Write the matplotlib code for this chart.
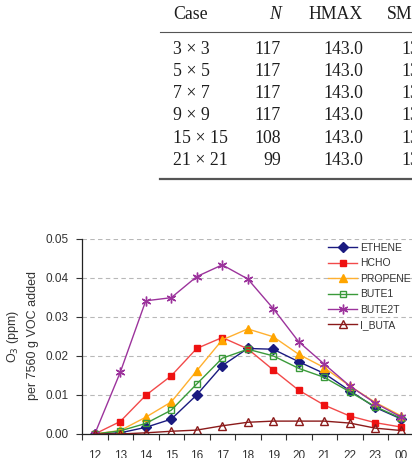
import matplotlib
matplotlib.use("Agg")
import matplotlib.pyplot as plt
from matplotlib.lines import Line2D

# table data (cropped at right edge)
table_header = ["Case", "N", "HMAX", "SMAX"]
cases = ["3 × 3", "5 × 5", "7 × 7", "9 × 9", "15 × 15", "21 × 21"]
n_vals = ["117", "117", "117", "117", "108", "99"]
hmax_vals = ["143.0", "143.0", "143.0", "143.0", "143.0", "143.0"]
smax_vals = ["13", "13", "13", "13", "13", "13"]

# chart data
hours = ["12", "13", "14", "15", "16", "17", "18", "19", "20", "21", "22", "23", "00"]
ethene = [0.0, 0.0003, 0.0017, 0.0038, 0.0100, 0.0175, 0.0219, 0.0217, 0.0185, 0.0155, 0.0111, 0.0068, 0.0039]
hcho = [0.0, 0.0032, 0.0099, 0.0149, 0.0219, 0.0247, 0.0218, 0.0164, 0.0112, 0.0074, 0.0046, 0.0029, 0.0018]
propene = [0.0, 0.0009, 0.0043, 0.0082, 0.0162, 0.0241, 0.0269, 0.0249, 0.0204, 0.0170, 0.0123, 0.0081, 0.0047]
bute1 = [0.0, 0.0008, 0.0027, 0.0061, 0.0128, 0.0194, 0.0217, 0.0200, 0.0168, 0.0145, 0.0108, 0.0070, 0.0041]
bute2t = [0.0, 0.0158, 0.0341, 0.0349, 0.0403, 0.0433, 0.0397, 0.0321, 0.0236, 0.0179, 0.0123, 0.0079, 0.0044]
i_buta = [0.0, 0.0, 0.0003, 0.0007, 0.0010, 0.0021, 0.0030, 0.0033, 0.0033, 0.0033, 0.0028, 0.0015, 0.0009]

W, H = 412, 458
fig = plt.figure(figsize=(W / 100, H / 100), dpi=100)

def fx(px):
    return px / W

def fy(py):
    return 1 - py / H

# ---- table ----
serif = "Liberation Serif"
tsize = 12.8
em = tsize * 100 / 72
off = 0.33 * em  # center -> baseline
tcol = "#1e1e1e"

col_x = [173, 281, 363, 387]
col_ha = ["left", "right", "right", "left"]
for i, h in enumerate(table_header):
    fig.text(fx(col_x[i]), fy(13 + off), h, ha=col_ha[i], va="baseline",
             family=serif, size=tsize, style="italic" if h == "N" else "normal",
             color=tcol)

fig.add_artist(Line2D([fx(160), fx(W + 2)], [fy(31.5), fy(31.5)],
                      color="#555555", lw=0.8, transform=fig.transFigure))

for r in range(len(cases)):
    yc = 48 + 22.2 * r + off
    fig.text(fx(173), fy(yc), cases[r], ha="left", va="baseline", family=serif, size=tsize, color=tcol)
    fig.text(fx(281), fy(yc), n_vals[r], ha="right", va="baseline", family=serif, size=tsize, color=tcol)
    fig.text(fx(363), fy(yc), hmax_vals[r], ha="right", va="baseline", family=serif, size=tsize, color=tcol)
    fig.text(fx(401), fy(yc), smax_vals[r], ha="left", va="baseline", family=serif, size=tsize, color=tcol)

fig.add_artist(Line2D([fx(160), fx(W + 2)], [fy(179), fy(179)],
                      color="#555555", lw=1.6, transform=fig.transFigure))

# ---- chart ----
plt.rcParams["font.family"] = "Liberation Sans"
ax = fig.add_axes([fx(82), 24 / H, 331.5 / W, 195.3 / H])
x = list(range(len(hours)))

series = [
    ("ETHENE", ethene, "#1a1a80", "D", "#1a1a80", 4.8),
    ("HCHO", hcho, "#f24a4a", "s", "#ee1111", 5),
    ("PROPENE", propene, "#ffb030", "^", "#ffa500", 6),
    ("BUTE1", bute1, "#3a9a3a", "s", "none", 5),
    ("BUTE2T", bute2t, "#9c339c", (6, 2, 0), "#9c339c", 7),
    ("I_BUTA", i_buta, "#8b1a1a", "^", "none", 6),
]
for name, vals, col, mk, fc, ms in series:
    ax.plot(x, vals, color=col, lw=1.0, marker=mk, markersize=ms,
            markerfacecolor=fc, markeredgecolor=col if fc == "none" else fc,
            markeredgewidth=1.0, label=name)

ax.set_xlim(-0.5, 12.5)
ax.set_ylim(0, 0.05)
ax.set_yticks([0, 0.01, 0.02, 0.03, 0.04, 0.05])
ax.set_yticklabels([f"{v:.2f}" for v in [0, 0.01, 0.02, 0.03, 0.04, 0.05]])
ax.set_xticks(x)
ax.set_xticklabels(hours)
ax.set_xticks([i - 0.5 for i in range(len(hours) + 1)], minor=True)
ax.tick_params(axis="x", which="major", length=0, pad=11.5, labelsize=8.5, colors="#333333")
ax.tick_params(axis="x", which="minor", length=4, width=0.8, direction="out", color="#333333")
ax.tick_params(axis="y", length=4.5, width=0.8, pad=5, labelsize=8.5, colors="#333333")

ax.grid(axis="y", color="#b8b8b8", linestyle=(0, (4, 3)), lw=0.8)
ax.set_axisbelow(True)
for s in ["top", "right"]:
    ax.spines[s].set_visible(False)
for s in ["left", "bottom"]:
    ax.spines[s].set_color("#222222")
    ax.spines[s].set_linewidth(0.9)

fig.text(fx(13), fy(336), "O$_3$ (ppm)", rotation=90, ha="center", va="center",
         size=9, color="#333333")
fig.text(fx(33), fy(336), "per 7560 g VOC added", rotation=90, ha="center", va="center",
         size=9, color="#333333")

ax.legend(loc="upper left", bbox_to_anchor=(fx(328), fy(243)), bbox_transform=fig.transFigure,
          frameon=False, fontsize=7.5, handlelength=2.8, handletextpad=0.25,
          labelspacing=0.52, borderpad=0, borderaxespad=0, labelcolor="#333333")

fig.savefig("out.png", dpi=100)
